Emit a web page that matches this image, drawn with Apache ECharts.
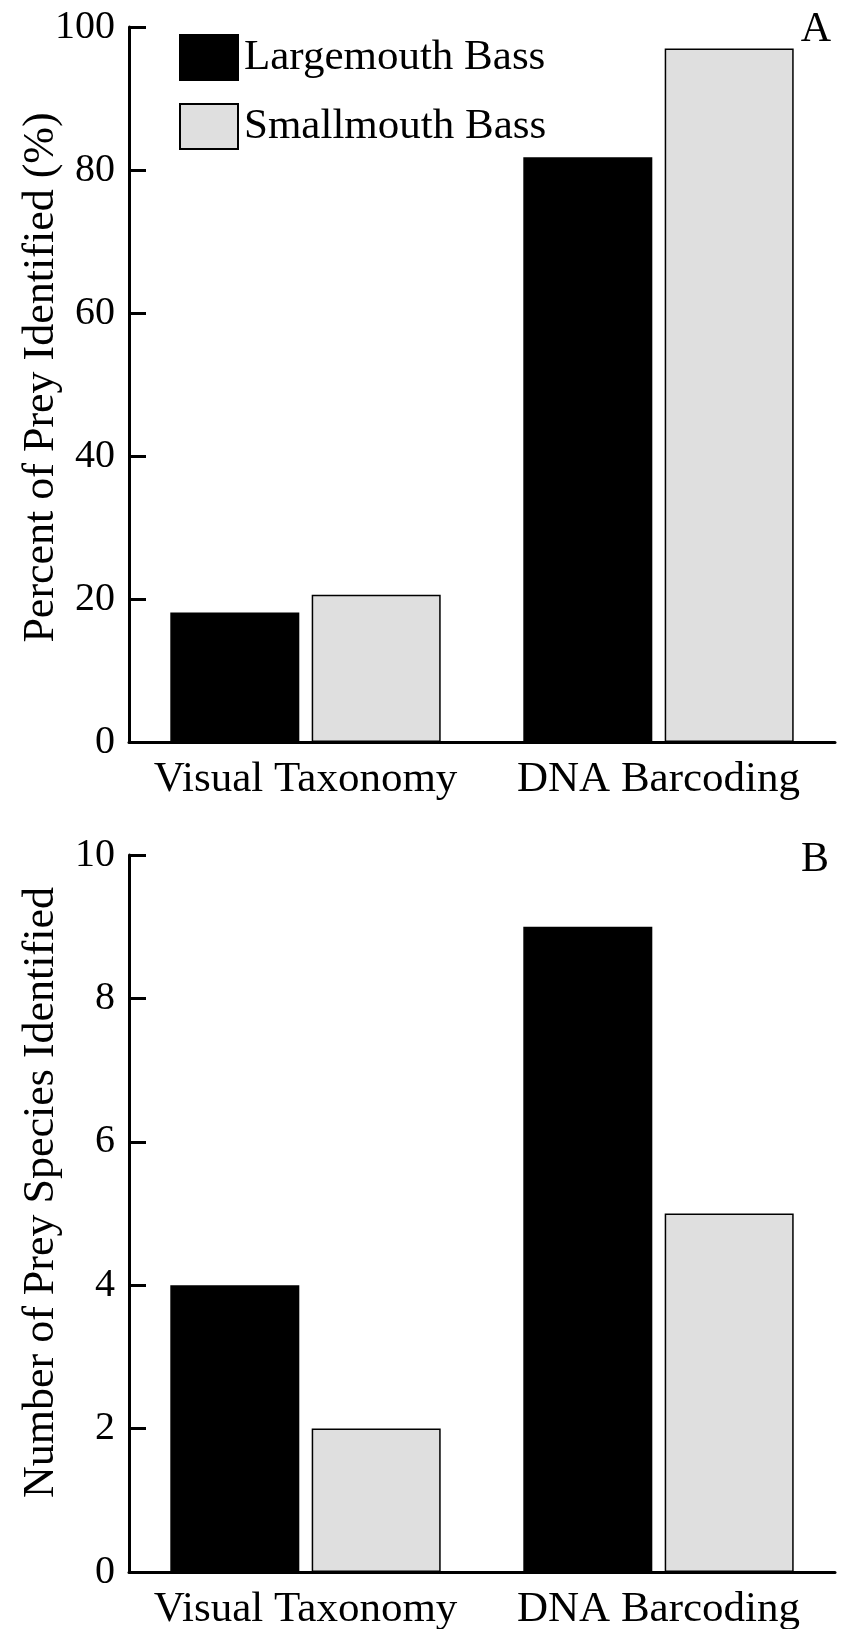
<!DOCTYPE html>
<html>
<head>
<meta charset="utf-8">
<script src="https://cdn.jsdelivr.net/npm/echarts@6/dist/echarts.min.js"></script>
<style>
html,body{margin:0;padding:0;background:#fff;}
#chart{width:841px;height:1629px;}
</style>
</head>
<body>
<div id="chart"></div>
<script>
const categories = ['Visual Taxonomy', 'DNA Barcoding'];
const seriesNames = ['Largemouth Bass', 'Smallmouth Bass'];
const percentLargemouth = [18.1, 81.8];
const percentSmallmouth = [20.6, 97.0];
const speciesLargemouth = [4, 9];
const speciesSmallmouth = [2, 5];
const panelLabels = ['A', 'B'];
const yTitles = ['Percent of Prey Identified (%)', 'Number of Prey Species Identified'];

const FONT = 'Liberation Serif';
const chart = echarts.init(document.getElementById('chart'), null, {renderer: 'canvas'});

function xAxis(gridIndex) {
  return {
    type: 'category', gridIndex: gridIndex, data: categories,
    axisLine: {lineStyle: {color: '#000', width: 3}},
    axisTick: {show: false},
    axisLabel: {color: '#000', fontFamily: FONT, fontSize: 43, margin: 16, interval: 0}
  };
}
function yAxis(gridIndex, max, interval, title, shift) {
  return {
    type: 'value', gridIndex: gridIndex, min: 0, max: max, interval: interval,
    name: title, nameLocation: 'middle', nameGap: 66, nameRotate: 90, nameMoveOverlap: false,
    nameTextStyle: {color: '#000', fontFamily: FONT, fontSize: 44, padding: [0, 0, 0, shift]},
    axisLine: {show: true, lineStyle: {color: '#000', width: 3}},
    axisTick: {show: true, inside: true, length: 17, lineStyle: {color: '#000', width: 3}},
    axisLabel: {color: '#000', fontFamily: FONT, fontSize: 40, margin: 14},
    splitLine: {show: false}
  };
}
function bar(name, data, color, xi, yi) {
  return {
    name: name, type: 'bar', data: data, xAxisIndex: xi, yAxisIndex: yi,
    barWidth: 129, barGap: '9.6%',
    itemStyle: {color: color, borderColor: '#000', borderWidth: 1.5},
    emphasis: {disabled: true}, animation: false
  };
}

chart.setOption({
  backgroundColor: '#fff',
  animation: false,
  title: [
    {text: panelLabels[0], right: 5, top: 4, textStyle: {color: '#000', fontFamily: FONT, fontSize: 42, fontWeight: 'normal'}},
    {text: panelLabels[1], right: 7, top: 834, textStyle: {color: '#000', fontFamily: FONT, fontSize: 42, fontWeight: 'normal'}}
  ],
  legend: {
    data: seriesNames.map(n => ({name: n, icon: 'rect'})), orient: 'vertical', left: 174, top: 29,
    itemWidth: 58, itemHeight: 45, itemGap: 22,
    textStyle: {color: '#000', fontFamily: FONT, fontSize: 43, padding: [0, 0, 0, 1]},
    selectedMode: false
  },
  grid: [
    {left: 129, width: 706, top: 27, height: 715, outerBoundsMode: 'none', containLabel: false},
    {left: 129, width: 706, top: 855, height: 717, outerBoundsMode: 'none', containLabel: false}
  ],
  xAxis: [xAxis(0), xAxis(1)],
  yAxis: [yAxis(0, 100, 20, yTitles[0], 14), yAxis(1, 10, 2, yTitles[1], 42)],
  series: [
    bar(seriesNames[0], percentLargemouth, '#000', 0, 0),
    bar(seriesNames[1], percentSmallmouth, '#dfdfdf', 0, 0),
    bar(seriesNames[0], speciesLargemouth, '#000', 1, 1),
    bar(seriesNames[1], speciesSmallmouth, '#dfdfdf', 1, 1)
  ]
});
</script>
</body>
</html>
